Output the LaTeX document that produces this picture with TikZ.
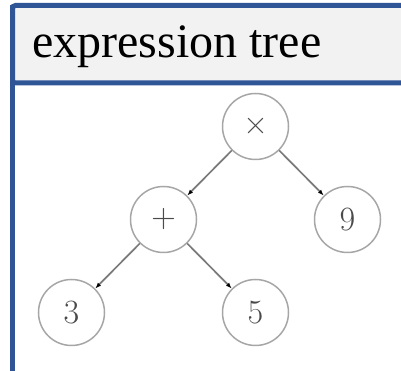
\documentclass[tikz,border=0pt]{standalone}
\usepackage{fontspec}
\newfontfamily\headfont{Liberation Serif}
\usetikzlibrary{arrows.meta,positioning}
\definecolor{ETBlue}{HTML}{2F5597}
\definecolor{ETHead}{HTML}{F2F2F2}
\definecolor{ETRing}{HTML}{A6A6A6}
\definecolor{ETEdge}{HTML}{7A7A7A}
\definecolor{ETInk}{HTML}{4A4A4A}
\tikzset{
  frame/.style={draw=ETBlue,line width=5pt},
  headbar/.style={frame,fill=ETHead,rounded corners=3pt,outer sep=0pt},
  headtext/.style={font=\headfont\fontsize{48}{56}\selectfont,text=black,inner sep=0pt},
  opnode/.style={circle,draw=ETRing,line width=1.5pt,minimum size=66pt,inner sep=0pt,
                 text=ETInk,font=\fontsize{34}{40}\selectfont},
  edge/.style={-{Latex[length=6pt,width=4.5pt,black]},ETEdge,line width=1.7pt},
}

\begin{document}
\begin{tikzpicture}[x=1pt,y=1pt]
    \useasboundingbox (0,0) rectangle (401,371);
    \clip (0,0) rectangle (401,371);

    % header bar, and the panel's left side below it
    \node[headbar,anchor=north west,minimum width=420pt,minimum height=77.5pt] (head) at (12.5,365.5) {};
    \draw[frame] (head.north west) -- ++(0,-400);
    \node[headtext,anchor=base west] (title) at (32,313) {expression tree};

    % the tree itself
    \begin{scope}[on grid,node distance=93pt and 92pt]
      \node[opnode] (times) at (255.5,244.5) {×};
      \node[opnode,below left=of times] (plus) {+};
      \node[opnode,below right=of times] (nine) {9};
      \node[opnode,below left=of plus] (three) {3};
      \node[opnode,below right=of plus] (five) {5};
    \end{scope}
    \foreach \a/\b in {times/plus,times/nine,plus/three,plus/five}
      \draw[edge] (\a) -- (\b);
\end{tikzpicture}
\end{document}
